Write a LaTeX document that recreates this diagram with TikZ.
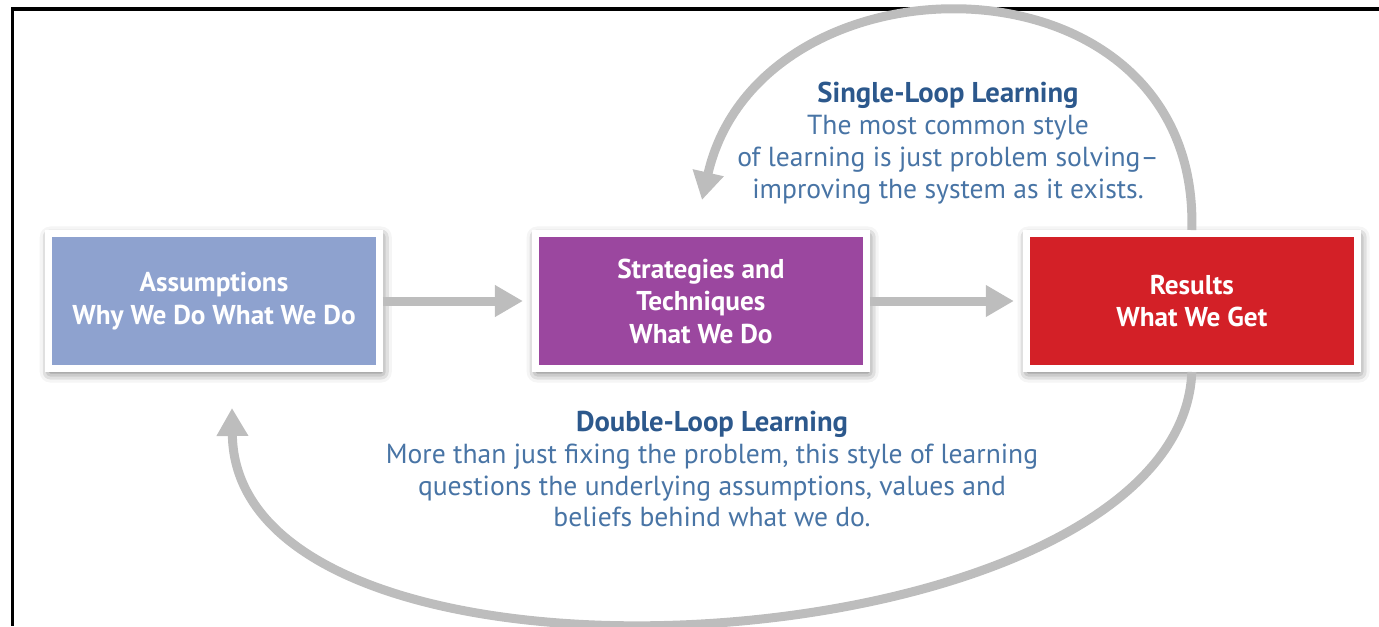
\documentclass[tikz,border=0pt]{standalone}
\usepackage{fontspec}
\setmainfont{PT Sans}
\usetikzlibrary{positioning,arrows.meta,shadows.blur}

\definecolor{assumpblue}{RGB}{142,162,207}
\definecolor{stratpurple}{RGB}{155,71,159}
\definecolor{resultred}{RGB}{211,32,39}
\definecolor{loopgray}{RGB}{189,189,189}
\definecolor{notehead}{RGB}{44,88,140}
\definecolor{notetext}{RGB}{72,116,165}

\newcommand{\loophead}[1]{{\fontsize{16.3}{18.2}\selectfont\bfseries\color{notehead}#1}}

\tikzset{
  stagebox/.style={draw=white, line width=0.14cm, minimum width=6.62cm, minimum height=2.7cm,
    align=center, text=white, font=\fontsize{15.5}{18.5}\selectfont\bfseries,
    blur shadow={shadow xshift=1pt, shadow yshift=-2pt, shadow blur radius=6pt, shadow opacity=65}},
  flow/.style={draw=loopgray, line width=0.18cm, -{Triangle[length=0.56cm,width=0.6cm]}},
  loopnote/.style={align=center, text=notetext, font=\fontsize{15.7}{18.2}\selectfont},
}

\begin{document}
\begin{tikzpicture}[x=0.02cm, y=-0.02cm]
  \useasboundingbox (0,0) rectangle (1379,626);
  % frame
  \draw[line width=0.08cm] (1379,9) -- (12.5,9) -- (12.5,626);

  % the three stages
  \node[stagebox, fill=assumpblue] (assump) at (214,301) {Assumptions\\Why We Do What We Do};
  \node[stagebox, fill=stratpurple, right=2.98cm of assump] (strat) {Strategies and\\Techniques\\What We Do};
  \node[stagebox, fill=resultred, right=3.06cm of strat] (result) {Results\\What We Get};

  \draw[flow, shorten >=0.18cm] (assump) -- (strat);
  \draw[flow, shorten >=0.18cm] (strat) -- (result);

  % feedback loops
  \coordinate (singletip) at (702,200);
  \coordinate (doubletip) at (232,408);
  \draw[flow] (result.north) .. controls (1200,-55) and (760,-55) .. (singletip);
  \draw[flow] (result.south) .. controls (1180,668) and (236,726) .. (doubletip);

  \node[loopnote] (singlenote) at (948,143) {\loophead{Single-Loop Learning}\\
    The most common style\\
    of learning is just problem solving--\\
    improving the system as it exists.};
  \node[loopnote] (doublenote) at (712,469) {\loophead{Double-Loop Learning}\\
    More than just fixing the problem, this style of learning\\
    questions the underlying assumptions, values and\\
    beliefs behind what we do.};
\end{tikzpicture}
\end{document}
